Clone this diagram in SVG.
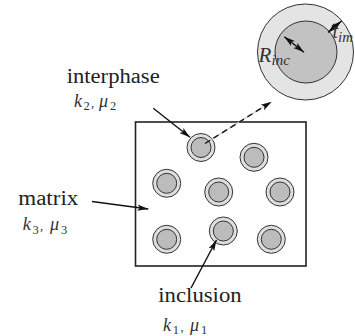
<svg xmlns="http://www.w3.org/2000/svg" width="355" height="336" viewBox="0 0 355 336">
<style>
.lbl{font-family:"Liberation Serif","Times New Roman",serif;fill:#222}
.mi{font-family:"Liberation Serif","Times New Roman",serif;font-style:italic;fill:#333}
.sub{font-family:"Liberation Serif","Times New Roman",serif;fill:#333;font-size:12.5px}
.outer{fill:#dedede;stroke:#333;stroke-width:1}
.inner{fill:#bcbcbc;stroke:#333;stroke-width:1}
.conn{stroke:#111;stroke-width:1.4;fill:none}
</style>
<defs>
<marker id="ah" viewBox="0 -4 12 8" markerWidth="12" markerHeight="8" refX="11" refY="0" orient="auto-start-reverse" markerUnits="userSpaceOnUse">
<path d="M0,-3.2 L11,0 L0,3.2 L2.5,0 Z" fill="#111"/>
</marker>
<g id="incl">
<circle r="14" class="outer"/>
<circle r="10" class="inner"/>
</g>
</defs>
<rect width="355" height="336" fill="#fff"/>

<g id="matrix-box">
<rect x="135.5" y="122" width="170.5" height="144" fill="#fff" stroke="#222" stroke-width="1.6"/>
</g>

<g id="inclusions">
<use href="#incl" x="201" y="147.5"/>
<use href="#incl" x="254" y="157.3"/>
<use href="#incl" x="166.7" y="183.3"/>
<use href="#incl" x="218.7" y="192"/>
<use href="#incl" x="280" y="192"/>
<use href="#incl" x="166.7" y="239.3"/>
<use href="#incl" x="223.3" y="231"/>
<use href="#incl" x="271.3" y="239.3"/>
</g>

<g id="detail">
<circle cx="305.5" cy="52" r="48" fill="#e4e4e4" stroke="#333" stroke-width="1"/>
<circle cx="306" cy="52" r="31" fill="#c2c2c2" stroke="#333" stroke-width="1"/>
</g>

<g id="connectors">
<line x1="153.3" y1="108.3" x2="190" y2="137.3" class="conn" marker-end="url(#ah)"/>
<line x1="92" y1="201.5" x2="148.3" y2="209" class="conn" marker-end="url(#ah)"/>
<line x1="191" y1="288" x2="216.5" y2="240" class="conn" marker-end="url(#ah)"/>
<line x1="205" y1="143.5" x2="266" y2="105.2" stroke="#cfcfcf" stroke-width="1.2"/>
<line x1="205" y1="143.5" x2="271.7" y2="101.7" class="conn" stroke-dasharray="6 4" marker-end="url(#ah)"/>
<line x1="284.3" y1="36.7" x2="304" y2="52.3" class="conn" marker-start="url(#ah)" marker-end="url(#ah)"/>
<line x1="328" y1="32.5" x2="341.5" y2="21" class="conn" marker-start="url(#ah)" marker-end="url(#ah)"/>
</g>

<g id="label-interphase">
<text class="lbl" x="66.7" y="83" font-size="20" textLength="93" lengthAdjust="spacingAndGlyphs">interphase</text>
<text class="mi" x="74" y="106.5" font-size="18">k</text>
<text class="sub" x="83.5" y="110">2</text>
<text class="sub" x="91" y="106.5" font-size="16">,</text>
<text class="mi" x="99" y="106.5" font-size="18">μ</text>
<text class="sub" x="110" y="110">2</text>
</g>

<g id="label-matrix">
<text class="lbl" x="18.3" y="205" font-size="20" textLength="60" lengthAdjust="spacingAndGlyphs">matrix</text>
<text class="mi" x="22.7" y="230" font-size="18">k</text>
<text class="sub" x="32.5" y="233.5">3</text>
<text class="sub" x="40" y="230" font-size="16">,</text>
<text class="mi" x="50" y="230" font-size="18">μ</text>
<text class="sub" x="61" y="233.5">3</text>
</g>

<g id="label-inclusion">
<text class="lbl" x="158.3" y="301.7" font-size="20" textLength="83.4" lengthAdjust="spacingAndGlyphs">inclusion</text>
<text class="mi" x="163" y="330.7" font-size="18">k</text>
<text class="sub" x="172.8" y="334.2">1</text>
<text class="sub" x="180.5" y="330.7" font-size="16">,</text>
<text class="mi" x="190" y="330.7" font-size="18">μ</text>
<text class="sub" x="201" y="334.2">1</text>
</g>

<g id="label-detail">
<text class="mi" x="258.5" y="61.7" font-size="21">R</text>
<text class="mi" x="271.5" y="64.5" font-size="15">inc</text>
<text class="mi" x="332.5" y="38.3" font-size="20">t</text>
<text class="mi" x="338" y="41.7" font-size="15">im</text>
</g>
</svg>
